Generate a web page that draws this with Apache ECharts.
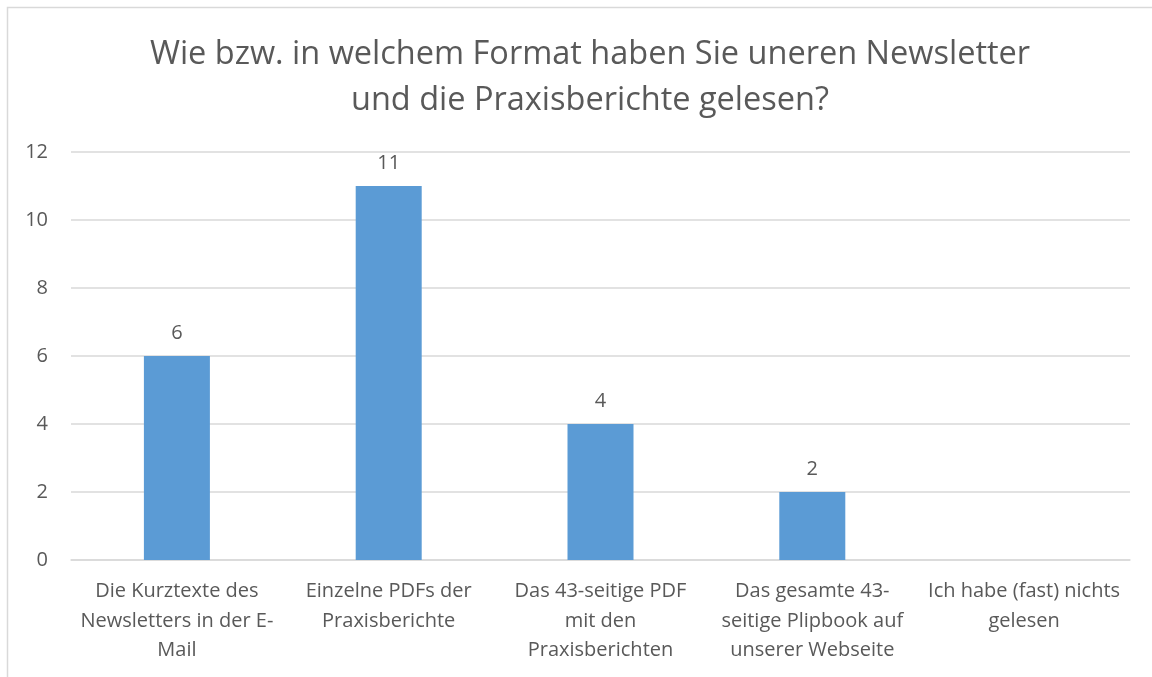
<!DOCTYPE html>
<html>
<head>
<meta charset="utf-8">
<script src="https://cdn.jsdelivr.net/npm/echarts@6/dist/echarts.min.js"></script>
<style>
  html, body { margin: 0; padding: 0; background: #fff; }
  #chart { width: 1152px; height: 677px; }
</style>
</head>
<body>
<div id="chart"></div>
<script>
const CATEGORIES = [
  'Die Kurztexte des\nNewsletters in der E-\nMail',
  'Einzelne PDFs der\nPraxisberichte',
  'Das 43-seitige PDF\nmit den\nPraxisberichten',
  'Das gesamte 43-\nseitige Plipbook auf\nunserer Webseite',
  'Ich habe (fast) nichts\ngelesen'
]
const COUNTS = [6, 11, 4, 2, 0]
const Y_TICKS = [0, 2, 4, 6, 8, 10, 12]

const textColor = '#595959'
const fontFamily = '"Open Sans", "DejaVu Sans", sans-serif'

const chart = echarts.init(document.getElementById('chart'))
const option = {
  animation: false,
  textStyle: { fontFamily: fontFamily, color: textColor },
  title: {
    text: 'Wie bzw. in welchem Format haben Sie uneren Newsletter\nund die Praxisberichte gelesen?',
    left: 585,
    textAlign: 'center',
    top: 27,
    textStyle: {
      fontFamily: fontFamily,
      fontWeight: 'normal',
      fontSize: 32.5,
      lineHeight: 46,
      color: textColor
    }
  },
  graphic: [{
    type: 'rect',
    shape: { x: 7.5, y: 7.5, width: 1200, height: 700 },
    style: { fill: 'none', stroke: '#d9d9d9', lineWidth: 1.5 },
    silent: true
  }],
  grid: { left: 71, right: 22, top: 152, bottom: 117 },
  xAxis: {
    type: 'category',
    data: CATEGORIES,
    axisTick: { show: false },
    axisLine: { lineStyle: { color: '#d9d9d9', width: 1.5 } },
    axisLabel: {
      interval: 0,
      margin: 17,
      fontSize: 20,
      lineHeight: 29.5,
      color: textColor,
      fontFamily: fontFamily
    }
  },
  yAxis: {
    type: 'value',
    min: Y_TICKS[0],
    max: Y_TICKS[Y_TICKS.length - 1],
    interval: 2,
    axisLine: { show: false },
    axisTick: { show: false },
    splitLine: { lineStyle: { color: '#d9d9d9', width: 1.5 } },
    axisLabel: {
      margin: 23,
      fontSize: 20,
      color: textColor,
      fontFamily: fontFamily
    }
  },
  series: [{
    type: 'bar',
    data: COUNTS,
    barWidth: 66,
    itemStyle: { color: '#5b9bd5' },
    label: {
      show: true,
      position: 'top',
      distance: 13,
      fontSize: 20,
      color: textColor,
      fontFamily: fontFamily,
      formatter: (p) => p.value > 0 ? p.value : ''
    }
  }]
}
chart.setOption(option)
</script>
</body>
</html>
